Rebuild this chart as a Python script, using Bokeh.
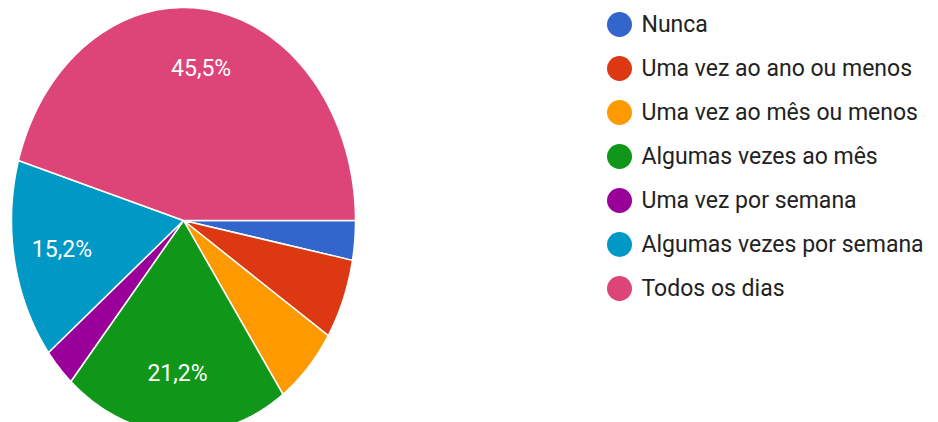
import numpy as np
from bokeh.plotting import figure
from bokeh.models import Range1d, ColumnDataSource
from bokeh.core.properties import value
from bokeh.embed import file_html
from bokeh.resources import INLINE

# ---- data ----
categories = ["Nunca", "Uma vez ao ano ou menos", "Uma vez ao mês ou menos",
              "Algumas vezes ao mês", "Uma vez por semana",
              "Algumas vezes por semana", "Todos os dias"]
percent = [3.0, 6.1, 6.1, 21.2, 3.0, 15.2, 45.5]
colors = ["#3366CC", "#DC3912", "#FF9900", "#109618", "#990099", "#0099C6", "#DD4477"]

# ---- layout constants (pixels) ----
W, H = 938, 422
CX, CY = 183, 220
RX, RY = 172, 213
LABEL_F = 0.72

p = figure(width=W, height=H, output_backend="svg", toolbar_location=None,
           x_range=Range1d(0, W), y_range=Range1d(H, 0), min_border=0)
p.axis.visible = False
p.grid.visible = False
p.outline_line_color = None
p.background_fill_color = "white"
p.border_fill_color = "white"

total = sum(percent)
fr = np.array(percent) / total
cum = np.concatenate([[0], np.cumsum(fr)])

xs, ys = [], []
lx, ly, lt = [], [], []
for i in range(len(percent)):
    t0, t1 = cum[i] * 2 * np.pi, cum[i + 1] * 2 * np.pi
    t = np.linspace(t0, t1, 120)
    xs.append(np.concatenate([[CX], CX + RX * np.cos(t), [CX]]).tolist())
    ys.append(np.concatenate([[CY], CY + RY * np.sin(t), [CY]]).tolist())
    if fr[i] >= 0.1:
        tm = (t0 + t1) / 2
        lx.append(CX + LABEL_F * RX * np.cos(tm))
        ly.append(CY + LABEL_F * RY * np.sin(tm))
        lt.append(f"{percent[i]:.1f}%".replace(".", ","))

p.patches(xs=xs, ys=ys, fill_color=colors, line_color="white", line_width=1.5)
p.text(x=lx, y=ly, text=lt, text_color="white", text_font=value("Roboto"),
       text_font_size="23px", text_align="center", text_baseline="middle")

# legend
LEG_X, LEG_Y0, LEG_DY = 619, 24, 44.0
ly2 = [LEG_Y0 + i * LEG_DY for i in range(len(categories))]
p.scatter(x=[LEG_X] * len(categories), y=ly2, size=25, fill_color=colors,
          line_color=None, marker="circle")
p.text(x=[LEG_X + 22] * len(categories), y=ly2, text=categories,
       text_color="#222222", text_font=value("Roboto"), text_font_size="23px",
       text_align="left", text_baseline="middle")

open("out.html", "w").write(file_html(p, INLINE))
